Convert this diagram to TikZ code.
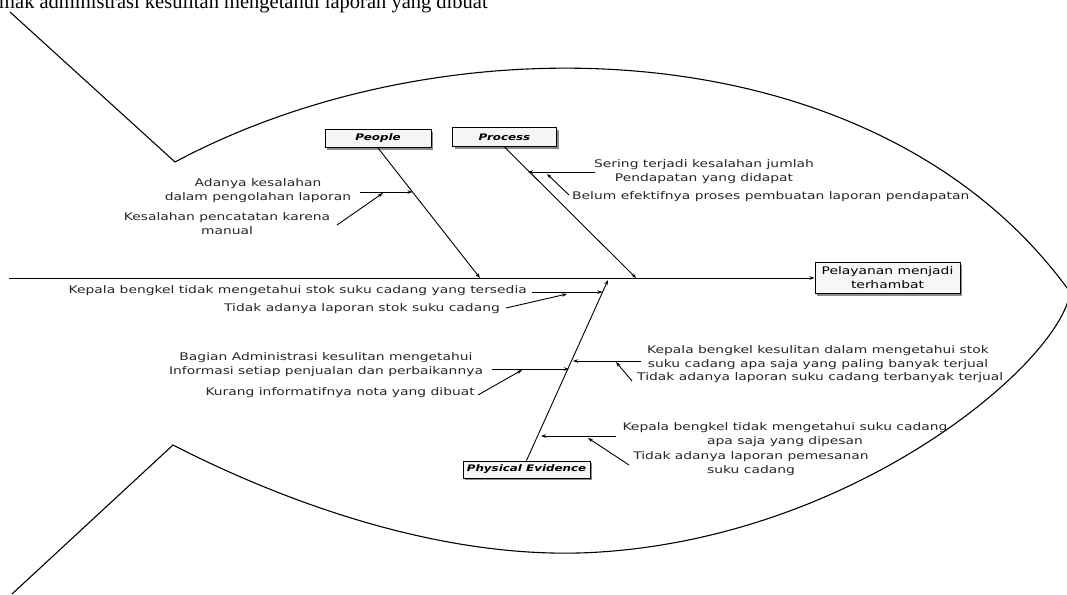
\documentclass[tikz,border=0pt]{standalone}
\usepackage{fontspec}
\setmainfont{DejaVu Sans}
\newfontfamily\lblfont[FakeStretch=1.32]{DejaVu Sans}
\newfontfamily\serifr{Liberation Serif}
\usetikzlibrary{arrows.meta,shadows}
\begin{document}
\begin{tikzpicture}[x=1pt,y=-1pt,
  font=\lblfont\fontsize{10.5}{14}\selectfont,
  lbl/.style={inner sep=0pt, align=center, text=black!85},
  body/.style={line width=1.1pt, line join=miter},
  arr/.style={line width=0.9pt, -{Stealth[length=5pt,width=3.5pt]}},
  cat/.style={draw, line width=1pt, fill=black!4, minimum height=18pt, inner sep=0pt,
    font=\lblfont\fontsize{9}{11}\selectfont\bfseries\itshape,
    drop shadow={shadow xshift=2pt, shadow yshift=-2pt, fill=black!45, opacity=1}},
  effbox/.style={draw, line width=1pt, fill=black!3, minimum width=145pt, minimum height=31pt, inner sep=0pt, align=center,
    font=\lblfont\fontsize{10.5}{14}\selectfont,
    drop shadow={shadow xshift=2pt, shadow yshift=-2pt, fill=black!45, opacity=1}}]
\useasboundingbox (0,0) rectangle (1067,594);
\begin{scope}
\clip (0,0) rectangle (1067,594);
\node[anchor=base west, inner sep=0pt, font=\serifr\fontsize{20.5}{20.5}\selectfont] (cap) at (-1,8.5) {mak administrasi kesulitan mengetahui laporan yang dibuat};

% fish outline
\coordinate (tailtop) at (10,12);
\coordinate (c1) at (175,162);
\coordinate (nose) at (1070,292);
\coordinate (bot) at (600,552);
\coordinate (c2) at (173,445);
\coordinate (tailbot) at (12,594);
\draw[body] (tailtop) -- (c1) .. controls (450,15) and (880,28) .. (nose)
  .. controls (1062,360) and (860,535) .. (bot)
  .. controls (450,562) and (290,505) .. (c2) -- (tailbot);
\end{scope}

% effect and spine
\node[effbox] (eff) at (887.5,278) {Pelayanan menjadi\\terhambat};
\coordinate (spine0) at (9,278);
\draw[arr] (spine0) -- (eff.west);

% categories
\node[cat, minimum width=106pt] (people) at (378,138.5) {People};
\node[cat, minimum width=104pt, minimum height=19pt] (process) at (504.5,137) {Process};
\node[cat, minimum width=127pt, minimum height=17pt] (phys) at (526.5,469.5) {Physical Evidence};

\coordinate (pp) at (480,278);
\coordinate (pr) at (636,278);
\coordinate (ph) at (608,280);
\draw[arr] (people.south) -- (pp);
\draw[arr] (process.south) -- (pr);
\draw[arr] (phys.north) -- (ph);

% People causes
\node[lbl] (p1) at (258,190.5) {Adanya kesalahan\\dalam pengolahan laporan};
\coordinate (p1s) at (360,192);
\coordinate (p1e) at (412.5,192);
\draw[arr] (p1s) -- (p1e);
\node[lbl] (p2) at (227,223.5) {Kesalahan pencatatan karena\\manual};
\coordinate (p2s) at (337,225);
\coordinate (p2e) at (383,193);
\draw[arr] (p2s) -- (p2e);

% Process causes
\node[lbl] (r1) at (704,172) {Sering terjadi kesalahan jumlah\\Pendapatan yang didapat};
\coordinate (r1s) at (595,172);
\coordinate (r1e) at (528,172);
\draw[arr] (r1s) -- (r1e);
\node[lbl, anchor=west] (r2) at (572,197) {Belum efektifnya proses pembuatan laporan pendapatan};
\coordinate (r2s) at (569,195);
\coordinate (r2e) at (547,174);
\draw[arr] (r2s) -- (r2e);

% Physical evidence causes, left
\node[lbl, anchor=east] (e1) at (527,291) {Kepala bengkel tidak mengetahui stok suku cadang yang tersedia};
\coordinate (e1s) at (532,292);
\coordinate (e1e) at (602.5,292);
\draw[arr] (e1s) -- (e1e);
\node[lbl, anchor=east] (e2) at (500,309) {Tidak adanya laporan stok suku cadang};
\coordinate (e2s) at (506,308);
\coordinate (e2e) at (567,294);
\draw[arr] (e2s) -- (e2e);
\node[lbl] (e3) at (326,365) {Bagian Administrasi kesulitan mengetahui\\Informasi setiap penjualan dan perbaikannya};
\coordinate (e3s) at (492,369);
\coordinate (e3e) at (569,369);
\draw[arr] (e3s) -- (e3e);
\node[lbl, anchor=east] (e4) at (475,393) {Kurang informatifnya nota yang dibuat};
\coordinate (e4s) at (478,395);
\coordinate (e4e) at (522,370);
\draw[arr] (e4s) -- (e4e);

% Physical evidence causes, right
\node[lbl] (e5) at (818,357.5) {Kepala bengkel kesulitan dalam mengetahui stok\\suku cadang apa saja yang paling banyak terjual};
\coordinate (e5s) at (641,361);
\coordinate (e5e) at (573,361);
\draw[arr] (e5s) -- (e5e);
\node[lbl, anchor=west] (e6) at (637,378) {Tidak adanya laporan suku cadang terbanyak terjual};
\coordinate (e6s) at (632,381);
\coordinate (e6e) at (616,362);
\draw[arr] (e6s) -- (e6e);
\node[lbl] (e7) at (785,434.5) {Kepala bengkel tidak mengetahui suku cadang\\apa saja yang dipesan};
\coordinate (e7s) at (616,436);
\coordinate (e7e) at (541,436);
\draw[arr] (e7s) -- (e7e);
\node[lbl] (e8) at (751,464) {Tidak adanya laporan pemesanan\\suku cadang};
\coordinate (e8s) at (629,465);
\coordinate (e8e) at (588,438);
\draw[arr] (e8s) -- (e8e);
\end{tikzpicture}
\end{document}
